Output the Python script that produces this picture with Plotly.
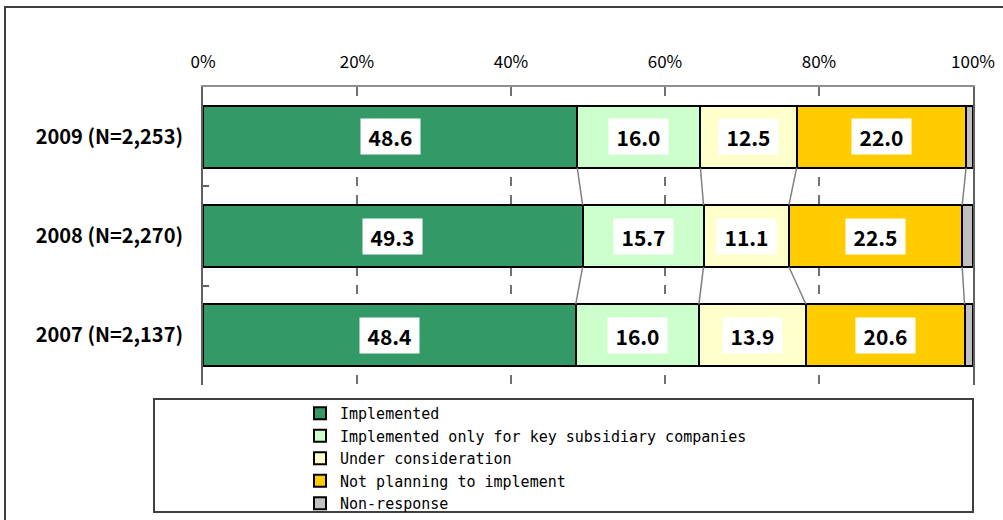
import plotly.graph_objects as go

# ---- data ----
years = ["2009 (N=2,253)", "2008 (N=2,270)", "2007 (N=2,137)"]
implemented = [48.6, 49.3, 48.4]
key_subsidiary = [16.0, 15.7, 16.0]
under_consideration = [12.5, 11.1, 13.9]
not_planning = [22.0, 22.5, 20.6]
non_response = [0.9, 1.4, 1.1]

series_names = [
    "Implemented",
    "Implemented only for key subsidiary companies",
    "Under consideration",
    "Not planning to implement",
    "Non-response",
]
series_values = [implemented, key_subsidiary, under_consideration, not_planning, non_response]
series_colors = ["#339966", "#CCFFCC", "#FFFFCC", "#FFCC00", "#C0C0C0"]
labelled = [True, True, True, True, False]

tick_vals = [0, 20, 40, 60, 80, 100]
tick_text = ["0%", "20%", "40%", "60%", "80%", "100%"]

W, H = 1003, 520
ML, MR, MT, MB = 203, 30, 87, 135
PW, PH = W - ML - MR, H - MT - MB
BARGAP = 0.375


def px_x(p):
    return (p - ML) / PW


def px_y(p):
    return (H - MB - p) / PH


fig = go.Figure()
for name, vals, col in zip(series_names, series_values, series_colors):
    fig.add_trace(go.Bar(
        y=years, x=vals, orientation="h", name=name,
        marker=dict(color=col, line=dict(color="black", width=2)),
        hoverinfo="skip",
    ))

annotations = []
shapes = []
lab_font = dict(family="Noto Sans CJK JP", size=21, color="black", weight="bold")
for i, yr in enumerate(years):
    start = 0.0
    for vals, lab in zip(series_values, labelled):
        v = vals[i]
        if lab:
            annotations.append(dict(
                x=start + v / 2, y=yr, xref="x", yref="y", text=f"{v:.1f}",
                showarrow=False, bgcolor="white", font=lab_font,
                width=53, height=29, borderpad=3, align="center", valign="middle",
            ))
        start += v

# connector (series) lines between bars
half = (1 - BARGAP) / 2
for k in range(len(series_values) - 1):
    cums = [sum(series_values[j][i] for j in range(k + 1)) for i in range(len(years))]
    for i in range(len(years) - 1):
        shapes.append(dict(
            type="line", xref="x", yref="y",
            x0=cums[i], y0=i + half, x1=cums[i + 1], y1=i + 1 - half,
            line=dict(color="#808080", width=1.5), layer="above",
        ))

# outer chart frame
shapes.append(dict(type="rect", xref="paper", yref="paper",
                   x0=px_x(5), x1=px_x(1030), y0=px_y(560), y1=px_y(7),
                   line=dict(color="#404040", width=2), fillcolor="rgba(0,0,0,0)", layer="below"))
# legend frame
shapes.append(dict(type="rect", xref="paper", yref="paper",
                   x0=px_x(154), x1=px_x(973), y0=px_y(512), y1=px_y(399),
                   line=dict(color="#404040", width=2), fillcolor="rgba(0,0,0,0)", layer="below"))

fig.update_layout(
    width=W, height=H, autosize=False,
    margin=dict(l=ML, r=MR, t=MT, b=MB, pad=0, autoexpand=False),
    paper_bgcolor="white", plot_bgcolor="white",
    barmode="stack", bargap=BARGAP,
    showlegend=True,
    legend=dict(
        x=px_x(300), y=px_y(397), xanchor="left", yanchor="top",
        bgcolor="rgba(0,0,0,0)", borderwidth=0, traceorder="normal",
        font=dict(family="DejaVu Sans Mono", size=15, color="black"),
        itemwidth=30, tracegroupgap=0,
    ),
    annotations=annotations,
    shapes=shapes,
    xaxis=dict(
        range=[0, 100], side="top", tickmode="array", tickvals=tick_vals, ticktext=tick_text,
        showgrid=True, griddash="dash", gridcolor="#707070", gridwidth=1.5,
        showline=True, linecolor="#909090", linewidth=1.5, zeroline=False,
        ticks="", ticklabelstandoff=10,
        tickfont=dict(family="Noto Sans CJK JP", size=17, color="black"),
    ),
    yaxis=dict(
        type="category", categoryorder="array", categoryarray=years, autorange="reversed",
        showline=True, linecolor="#606060", linewidth=2, mirror=True,
        ticks="inside", tickson="boundaries", ticklen=6, tickcolor="#606060", tickwidth=1.5,
        showgrid=False, ticklabelstandoff=14,
        tickfont=dict(family="Noto Sans CJK JP", size=20, color="black", weight="bold"),
    ),
)

fig.write_html("out.html")
